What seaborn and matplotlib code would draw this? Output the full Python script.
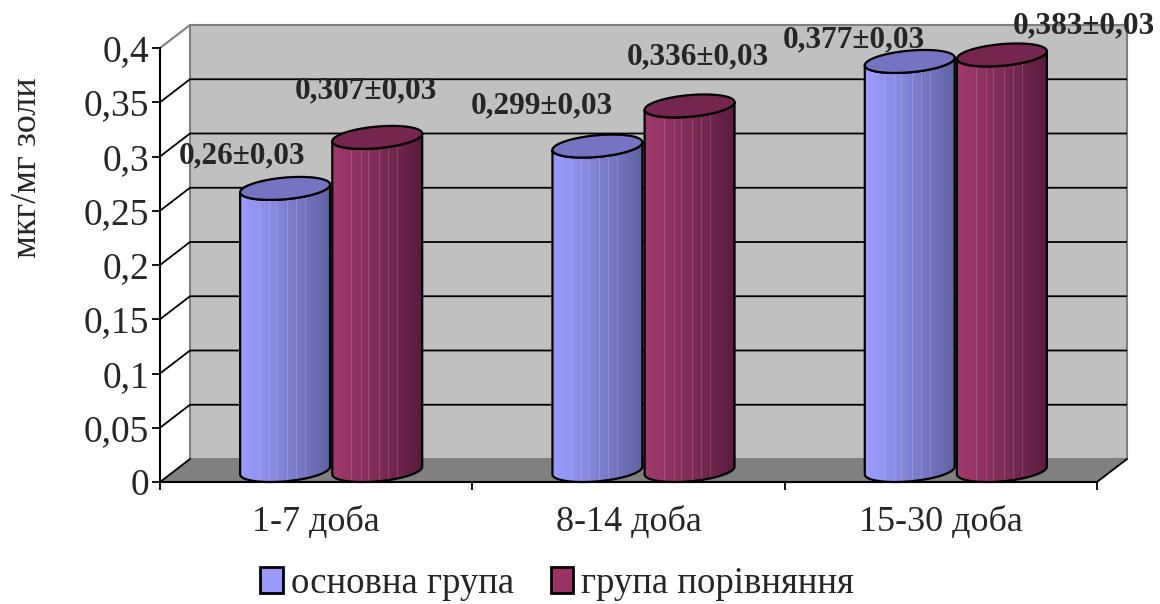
import numpy as np
import pandas as pd
import matplotlib
matplotlib.use("Agg")
import matplotlib.pyplot as plt
import seaborn as sns
from matplotlib.patches import Polygon, Rectangle
from matplotlib.colors import to_rgb
from matplotlib.ticker import FixedLocator, FuncFormatter

# ---- data ----
periods = ["1-7 доба", "8-14 доба", "15-30 доба"]
groups = ["основна група", "група порівняння"]
main_values = [0.26, 0.299, 0.377]
comparison_values = [0.307, 0.336, 0.383]
main_errors = [0.03, 0.03, 0.03]
comparison_errors = [0.03, 0.03, 0.03]
y_ticks = [0, 0.05, 0.1, 0.15, 0.2, 0.25, 0.3, 0.35, 0.4]
y_label = "мкг/мг золи"

# ---- style ----
SERIF = ["Liberation Serif", "DejaVu Serif"]
BASE_COLORS = ["#9999FF", "#993366"]
SIDE_LIGHT = ["#9C9CFF", "#A03A6C"]
SIDE_DARK = ["#6262A2", "#5A1C3E"]
TOP_COLORS = ["#7474C2", "#74264F"]
WALL = "#C0C0C0"
FLOOR = "#808080"
# value-label shifts in pixels, relative to the back edge of each cylinder top
LABEL_SHIFT = [[(-43, 21), (-56, 29), (-56, 10)],
               [(-11, 35), (8, 38), (82, 18)]]

sns.set_style("white")
plt.rcParams["font.family"] = SERIF

W, H = 1160, 604
fig = plt.figure(figsize=(W / 100, H / 100), dpi=100)
ax = fig.add_axes([160 / W, 122 / H, 937 / W, 434 / H])

df = pd.DataFrame({
    "period": periods * 2,
    "group": [groups[0]] * 3 + [groups[1]] * 3,
    "value": main_values + comparison_values,
})
sns.barplot(data=df, x="period", y="value", hue="group", order=periods,
            hue_order=groups, palette=BASE_COLORS, width=0.59, gap=0.08,
            errorbar=None, legend=False, ax=ax)

ymax = y_ticks[-1]
ax.set_xlim(-0.5, 2.5)
ax.set_ylim(0, ymax)

# oblique depth offset expressed in data units (30 px right, 23 px up)
DX = 30 / 937 * 3
DY = 23 / 434 * ymax
x0, x1 = -0.5, 2.5

# back wall, floor and gridlines
ax.add_patch(Polygon([(x0 + DX, DY), (x1 + DX, DY), (x1 + DX, ymax + DY),
                      (x0 + DX, ymax + DY)], closed=True, fc=WALL, ec="#808080",
                     lw=1.5, zorder=0.2, clip_on=False))
ax.add_patch(Polygon([(x0, 0), (x1, 0), (x1 + DX, DY), (x0 + DX, DY)],
                     closed=True, fc=FLOOR, ec="none", zorder=0.3, clip_on=False))
for t in y_ticks[1:-1]:
    ax.plot([x0, x0 + DX, x1 + DX], [t, t + DY, t + DY], color="black",
            lw=1.3, zorder=0.4, clip_on=False, solid_capstyle="butt")
ax.plot([x0, x0 + DX], [ymax, ymax + DY], color="#808080", lw=1.5,
        zorder=0.4, clip_on=False)
ax.plot([x0, x0 + DX], [0, DY], color="black", lw=1.3, zorder=0.4, clip_on=False)
ax.plot([x1, x1 + DX], [0, DY], color="black", lw=1.3, zorder=0.4, clip_on=False)

STRIPES = [0.03, 0.07, 0.11, 0.17, 0.22, 0.27, 0.33, 0.41, 0.48, 0.53, 0.58,
           0.63, 0.68, 0.73, 0.78, 0.84, 0.88, 0.92, 0.96]


def side_image(k, n=240):
    f = np.linspace(0, 1, n)
    lo, hi = np.array(to_rgb(SIDE_LIGHT[k])), np.array(to_rgb(SIDE_DARK[k]))
    cols = lo[None, :] * (1 - f[:, None] ** 1.1) + hi[None, :] * f[:, None] ** 1.1
    for s in STRIPES:
        i = int(s * (n - 1))
        cols[i] = cols[i] * 0.85 + 0.15
    return cols[None, :, :]


def ellipse(cx, yc, r, t):
    hx, hy = DX / 2, DY / 2
    return np.column_stack([cx + hx + r * np.cos(t) + hx * np.sin(t),
                            yc + hy + hy * np.sin(t)])


hx = DX / 2
z = 2.0
for j in range(len(periods)):
    for k, cont in enumerate(ax.containers):
        bar = cont.patches[j]
        bar.set_visible(False)
        cx = bar.get_x() + bar.get_width() / 2
        r = bar.get_width() / 2
        v = bar.get_height()
        t0 = np.arctan2(hx, r)
        front = np.linspace(t0, t0 - np.pi, 80)
        bottom = ellipse(cx, 0, r, front)
        top = ellipse(cx, v, r, front[::-1])
        body = Polygon(np.vstack([bottom, top]), closed=True, fc="none",
                       ec="black", lw=1.6, zorder=z + 0.2, clip_on=False,
                       joinstyle="round")
        ax.add_patch(body)
        xs = ellipse(cx, 0, r, np.array([t0 - np.pi, t0]))[:, 0]
        im = ax.imshow(side_image(k), extent=[xs[0], xs[1], -0.01, v + DY],
                       aspect="auto", interpolation="nearest", zorder=z,
                       clip_on=True)
        im.set_clip_path(body)
        cap = ellipse(cx, v, r, np.linspace(0, 2 * np.pi, 120))
        ax.add_patch(Polygon(cap, closed=True, fc=TOP_COLORS[k], ec="black",
                             lw=1.6, zorder=z + 0.3, clip_on=False))
        err = [main_errors, comparison_errors][k][j]
        txt = f"{v:g}±{err:g}".replace(".", ",")
        sx, sy = LABEL_SHIFT[k][j]
        ax.annotate(txt, xy=(cx + hx, v + DY), xytext=(sx, sy),
                    textcoords="offset pixels", ha="center", va="center",
                    fontsize=22.5, fontweight="bold", annotation_clip=False,
                    zorder=10)
        z += 1

ax.set_xlim(-0.5, 2.5)
ax.set_ylim(0, ymax)

# axes, ticks and labels
for side in ["top", "right"]:
    ax.spines[side].set_visible(False)
for side in ["left", "bottom"]:
    ax.spines[side].set_visible(True)
    ax.spines[side].set_color("black")
    ax.spines[side].set_linewidth(1.5)
    ax.spines[side].set_zorder(1)

ax.yaxis.set_major_locator(FixedLocator(y_ticks))
ax.yaxis.set_major_formatter(FuncFormatter(lambda val, _: f"{val:g}".replace(".", ",")))
ax.tick_params(axis="y", which="major", direction="out", length=6, width=1.3,
               color="black", labelsize=27, pad=2, left=True)
ax.set_xticks(range(len(periods)))
ax.set_xticklabels(periods)
ax.xaxis.set_minor_locator(FixedLocator([-0.5, 0.5, 1.5, 2.5]))
ax.tick_params(axis="x", which="major", length=0, labelsize=26, pad=17)
ax.tick_params(axis="x", which="minor", direction="out", length=6, width=1.3,
               color="black", bottom=True)
ax.set_xlabel("")
ax.set_ylabel("")
ax.grid(False)
ax.patch.set_alpha(0)

fig.text(28 / W, 1 - 168 / H, y_label, rotation=90, ha="center", va="center",
         fontsize=26)

handles = [Rectangle((0, 0), 1, 1, fc=c, ec="black", lw=2) for c in BASE_COLORS]
fig.legend(handles, groups, loc="center", bbox_to_anchor=(557 / W, 1 - 584 / H),
           ncol=2, frameon=False, fontsize=26.5, handlelength=0.62,
           handleheight=0.7, handletextpad=0.2, columnspacing=1.0)

fig.savefig("out.png", dpi=100)
